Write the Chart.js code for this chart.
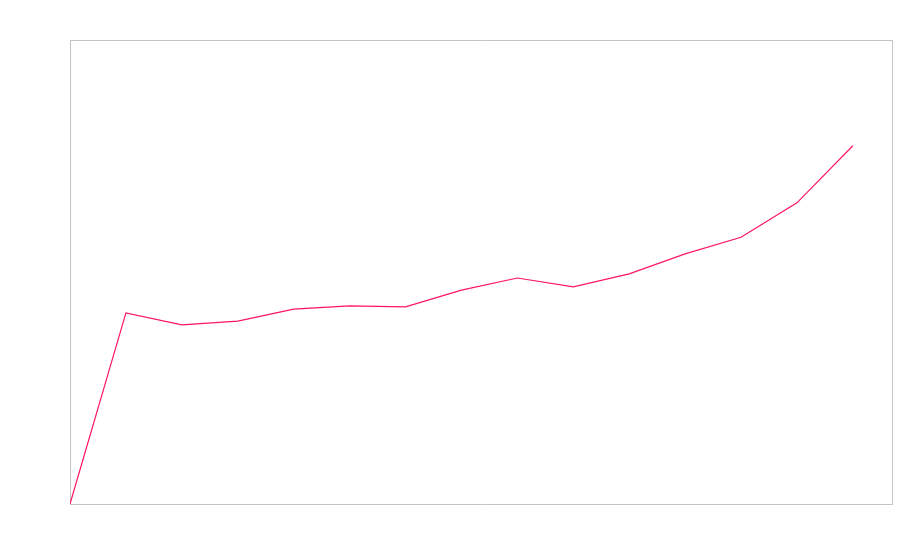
<!DOCTYPE html>
<html>
<head>
<meta charset="utf-8">
<style>
    html, body { margin: 0; padding: 0; background: #ffffff; }
    #wrap { width: 900px; height: 560px; }
</style>
<script src="https://cdn.jsdelivr.net/npm/chart.js@4/dist/chart.umd.min.js"></script>
</head>
<body>
<div id="wrap"><canvas id="lineChart"></canvas></div>
<script>
// Data
const xValues = [0, 1, 2, 3, 4, 5, 6, 7, 8, 9, 10, 11, 12, 13, 14];
const yValues = [0, 41.2, 38.6, 39.4, 42.0, 42.7, 42.5, 46.1, 48.7, 46.8, 49.6, 53.9, 57.5, 64.9, 77.2];
const xMin = 0, xMax = 14.7;
const yMin = 0, yMax = 100;

const frameColor = '#c4c4c4';
const lineColor = '#ff1464';

const points = xValues.map((x, i) => ({ x: x, y: yValues[i] }));

function hiddenAxis(position, min, max) {
    return {
        type: 'linear',
        position: position,
        min: min,
        max: max,
        ticks: { display: false },
        grid: { display: false, drawTicks: false },
        border: { display: true, color: frameColor, width: 1 }
    };
}

const ctx = document.getElementById('lineChart').getContext('2d');
new Chart(ctx, {
    type: 'line',
    data: {
        datasets: [{
            data: points,
            borderColor: lineColor,
            borderWidth: 1.2,
            pointRadius: 0,
            tension: 0,
            fill: false,
            xAxisID: 'x',
            yAxisID: 'y'
        }]
    },
    options: {
        responsive: true,
        maintainAspectRatio: false,
        animation: false,
        layout: { padding: { left: 70, right: 8, top: 40, bottom: 56 } },
        plugins: { legend: { display: false }, tooltip: { enabled: false } },
        scales: {
            x: hiddenAxis('bottom', xMin, xMax),
            x2: hiddenAxis('top', xMin, xMax),
            y: hiddenAxis('left', yMin, yMax),
            y2: hiddenAxis('right', yMin, yMax)
        }
    }
});
</script>
</body>
</html>
